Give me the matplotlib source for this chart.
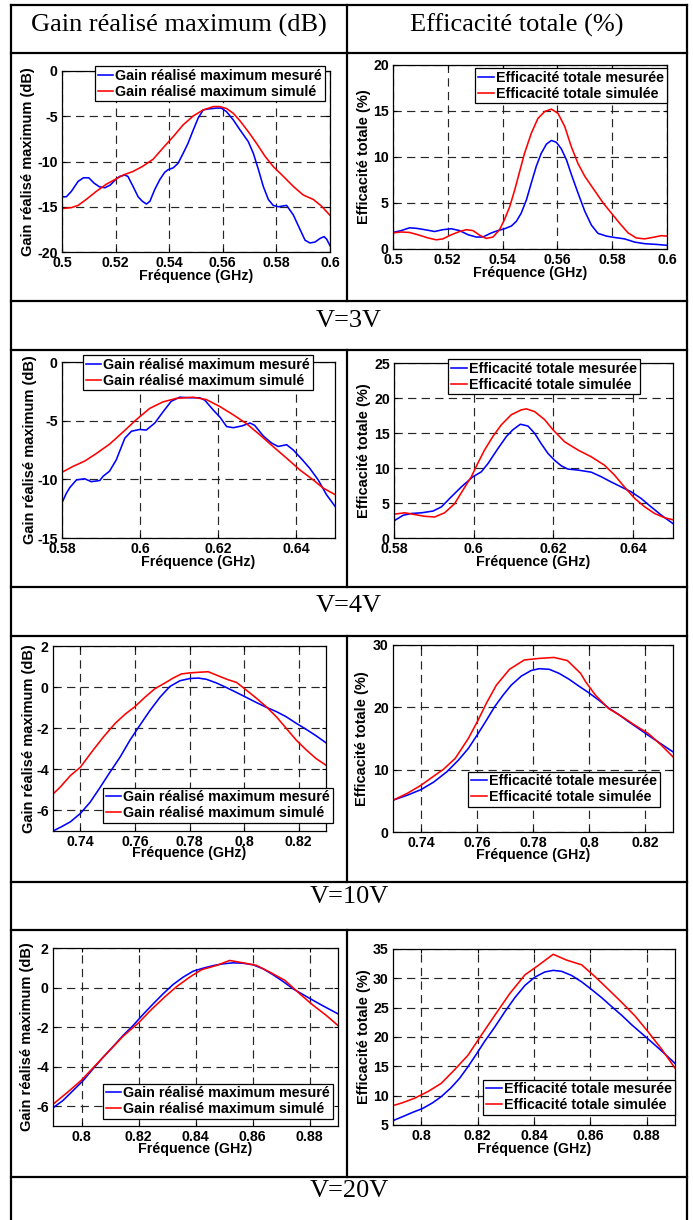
import matplotlib
matplotlib.use('Agg')
import matplotlib.pyplot as plt
from matplotlib.lines import Line2D
from matplotlib.ticker import FuncFormatter

# ---- data ----
headers = ['Gain réalisé maximum (dB)', 'Efficacité totale (%)']
voltages = ['V=3V', 'V=4V', 'V=10V', 'V=20V']
gain_label = 'Gain réalisé maximum (dB)'
eff_label = 'Efficacité totale (%)'
gain_leg = ['Gain réalisé maximum mesuré', 'Gain réalisé maximum simulé']
eff_leg = ['Efficacité totale mesurée', 'Efficacité totale simulée']

# V=3V gain
f_g3_mes = [0.5000, 0.5016, 0.5035, 0.5060, 0.5080, 0.5100, 0.5120, 0.5140, 0.5160, 0.5180,
            0.5200, 0.5215, 0.5234, 0.5246, 0.5265, 0.5284, 0.5300, 0.5315, 0.5328, 0.5346,
            0.5365, 0.5383, 0.5396, 0.5415, 0.5433, 0.5452, 0.5470, 0.5490, 0.5508, 0.5527,
            0.5545, 0.5577, 0.5595, 0.5614, 0.5639, 0.5664, 0.5695, 0.5714, 0.5733, 0.5751,
            0.5770, 0.5788, 0.5807, 0.5838, 0.5863, 0.5888, 0.5907, 0.5925, 0.5944, 0.5963,
            0.5978, 0.5988, 0.6000]
g3_mes = [-13.9, -13.9, -13.3, -12.2, -11.8, -11.8, -12.4, -12.8, -12.9, -12.6,
          -12.0, -11.65, -11.5, -11.65, -12.75, -13.9, -14.4, -14.7, -14.4, -13.1,
          -12.0, -11.2, -10.9, -10.7, -10.2, -9.1, -8.0, -6.5, -5.2, -4.3,
          -4.2, -4.1, -4.1, -4.5, -5.4, -6.5, -7.8, -9.1, -10.9, -12.75,
          -14.2, -14.85, -15.0, -14.85, -15.9, -17.5, -18.7, -19.0, -18.9, -18.5,
          -18.3, -18.6, -19.3]
f_g3_sim = [0.5000, 0.5035, 0.5060, 0.5090, 0.5128, 0.5166, 0.5200, 0.5228, 0.5265, 0.5300,
            0.5340, 0.5377, 0.5415, 0.5452, 0.5490, 0.5527, 0.5565, 0.5589, 0.5614, 0.5639,
            0.5664, 0.5695, 0.5726, 0.5757, 0.5788, 0.5826, 0.5863, 0.5900, 0.5938, 0.5969,
            0.6000]
g3_sim = [-15.2, -15.1, -14.85, -14.2, -13.3, -12.5, -11.95, -11.5, -11.1, -10.55,
          -9.75, -8.5, -7.25, -5.95, -4.96, -4.3, -3.93, -3.93, -4.15, -4.67,
          -5.5, -6.7, -8.0, -9.4, -10.55, -11.65, -12.75, -13.7, -14.2, -14.95,
          -15.95]

# V=3V efficiency
f_e3_mes = [0.5000, 0.5030, 0.5060, 0.5085, 0.5116, 0.5152, 0.5182, 0.5213, 0.5243, 0.5274,
            0.5304, 0.5328, 0.5359, 0.5383, 0.5407, 0.5432, 0.5450, 0.5468, 0.5487, 0.5505,
            0.5523, 0.5541, 0.5560, 0.5578, 0.5596, 0.5614, 0.5633, 0.5651, 0.5675, 0.5700,
            0.5724, 0.5748, 0.5779, 0.5809, 0.5845, 0.5882, 0.5918, 0.5961, 0.6000]
e3_mes = [1.8, 2.0, 2.3, 2.25, 2.1, 1.9, 2.1, 2.2, 2.0, 1.55,
          1.3, 1.3, 1.75, 2.0, 2.2, 2.5, 3.0, 3.9, 5.35, 7.2,
          9.0, 10.4, 11.4, 11.8, 11.6, 10.9, 9.7, 8.1, 6.1, 4.1,
          2.6, 1.7, 1.4, 1.25, 1.1, 0.75, 0.58, 0.5, 0.4]
f_e3_sim = [0.5000, 0.5030, 0.5060, 0.5091, 0.5128, 0.5158, 0.5182, 0.5213, 0.5243, 0.5268,
            0.5292, 0.5316, 0.5340, 0.5365, 0.5389, 0.5407, 0.5426, 0.5444, 0.5462, 0.5480,
            0.5505, 0.5529, 0.5554, 0.5578, 0.5602, 0.5627, 0.5651, 0.5675, 0.5700, 0.5730,
            0.5767, 0.5797, 0.5827, 0.5858, 0.5888, 0.5918, 0.5955, 0.5979, 0.6000]
e3_sim = [1.75, 1.85, 1.8, 1.55, 1.2, 1.0, 1.1, 1.55, 1.9, 2.1,
          2.0, 1.5, 1.15, 1.3, 2.1, 3.2, 4.6, 6.4, 8.4, 10.4,
          12.6, 14.2, 14.95, 15.2, 14.75, 13.3, 11.1, 9.3, 7.9, 6.6,
          5.0, 3.9, 2.8, 1.75, 1.2, 1.1, 1.3, 1.45, 1.4]

# V=4V gain
f_g4_mes = [0.5800, 0.5811, 0.5820, 0.5837, 0.5858, 0.5875, 0.5897, 0.5905, 0.5922, 0.5939,
            0.5961, 0.5978, 0.5999, 0.6016, 0.6038, 0.6059, 0.6080, 0.6102, 0.6128, 0.6153,
            0.6166, 0.6188, 0.6205, 0.6222, 0.6239, 0.6261, 0.6282, 0.6294, 0.6316, 0.6337,
            0.6354, 0.6376, 0.6393, 0.6414, 0.6435, 0.6457, 0.6478, 0.6500]
g4_mes = [-12.0, -11.2, -10.7, -10.05, -9.95, -10.2, -10.1, -9.75, -9.3, -8.35,
          -6.5, -5.9, -5.75, -5.8, -5.2, -4.25, -3.35, -3.0, -3.05, -3.05,
          -3.25, -4.1, -4.7, -5.5, -5.6, -5.45, -5.2, -5.4, -6.3, -6.9,
          -7.2, -7.05, -7.5, -8.25, -9.05, -10.05, -11.3, -12.3]
f_g4_sim = [0.5800, 0.5828, 0.5858, 0.5888, 0.5922, 0.5957, 0.5991, 0.6025, 0.6059, 0.6093,
            0.6136, 0.6170, 0.6205, 0.6239, 0.6273, 0.6307, 0.6341, 0.6376, 0.6410, 0.6444,
            0.6470, 0.6500]
g4_sim = [-9.4, -8.9, -8.45, -7.8, -7.0, -5.95, -4.9, -3.95, -3.4, -3.1,
          -3.0, -3.2, -3.8, -4.5, -5.25, -6.2, -7.2, -8.2, -9.2, -10.05,
          -10.75, -11.3]

# V=4V efficiency
f_e4_mes = [0.5800, 0.5823, 0.5843, 0.5869, 0.5898, 0.5919, 0.5944, 0.5969, 0.5998, 0.6019,
            0.6036, 0.6061, 0.6082, 0.6098, 0.6117, 0.6136, 0.6153, 0.6169, 0.6186, 0.6203,
            0.6220, 0.6236, 0.6262, 0.6295, 0.6320, 0.6345, 0.6370, 0.6395, 0.6420, 0.6445,
            0.6471, 0.6500]
e4_mes = [2.45, 3.25, 3.5, 3.6, 3.85, 4.45, 5.9, 7.3, 8.75, 9.45,
          10.65, 12.8, 14.5, 15.45, 16.25, 16.0, 14.95, 13.5, 12.1, 11.1,
          10.3, 9.85, 9.7, 9.4, 8.75, 8.0, 7.3, 6.6, 5.65, 4.45,
          3.25, 2.05]
f_e4_sim = [0.5800, 0.5827, 0.5852, 0.5877, 0.5902, 0.5927, 0.5952, 0.5973, 0.5994, 0.6010,
            0.6027, 0.6048, 0.6069, 0.6094, 0.6119, 0.6132, 0.6153, 0.6178, 0.6199, 0.6228,
            0.6262, 0.6295, 0.6328, 0.6353, 0.6378, 0.6404, 0.6429, 0.6454, 0.6479, 0.6500]
e4_sim = [3.4, 3.6, 3.35, 3.1, 3.0, 3.6, 4.9, 6.85, 8.75, 10.65,
          12.55, 14.5, 16.15, 17.6, 18.3, 18.45, 18.05, 16.9, 15.45, 13.75,
          12.55, 11.6, 10.4, 9.0, 7.3, 5.65, 4.45, 3.5, 2.9, 2.6]

# V=10V gain
f_g10_mes = [0.7300, 0.7330, 0.7364, 0.7400, 0.7436, 0.7473, 0.7509, 0.7546, 0.7582, 0.7619,
             0.7655, 0.7692, 0.7728, 0.7765, 0.7802, 0.7832, 0.7862, 0.7899, 0.7935, 0.7972,
             0.8008, 0.8045, 0.8081, 0.8118, 0.8154, 0.8191, 0.8228, 0.8264, 0.8300]
g10_mes = [-7.0, -6.8, -6.55, -6.15, -5.6, -4.87, -4.13, -3.4, -2.58, -1.84,
           -1.14, -0.49, 0.03, 0.31, 0.42, 0.44, 0.38, 0.2, -0.02, -0.26,
           -0.5, -0.75, -0.98, -1.19, -1.44, -1.76, -2.06, -2.37, -2.71]
f_g10_sim = [0.7300, 0.7326, 0.7364, 0.7400, 0.7442, 0.7485, 0.7528, 0.7564, 0.7600, 0.7637,
             0.7673, 0.7710, 0.7740, 0.7770, 0.7800, 0.7832, 0.7868, 0.7905, 0.7941, 0.7972,
             0.8002, 0.8045, 0.8081, 0.8118, 0.8154, 0.8191, 0.8228, 0.8264, 0.8300]
g10_sim = [-5.2, -4.87, -4.3, -3.9, -3.15, -2.42, -1.76, -1.32, -0.95, -0.49,
           -0.08, 0.2, 0.44, 0.64, 0.69, 0.72, 0.75, 0.55, 0.36, 0.23,
           -0.08, -0.54, -0.95, -1.44, -2.0, -2.58, -3.06, -3.48, -3.8]

# V=10V efficiency
f_e10_mes = [0.7300, 0.7351, 0.7400, 0.7445, 0.7492, 0.7533, 0.7569, 0.7604, 0.7634, 0.7663,
             0.7693, 0.7722, 0.7758, 0.7793, 0.7822, 0.7858, 0.7893, 0.7929, 0.7964, 0.7999,
             0.8035, 0.8070, 0.8106, 0.8141, 0.8177, 0.8212, 0.8247, 0.8300]
e10_mes = [5.1, 5.9, 6.8, 8.0, 9.65, 11.5, 13.4, 15.8, 17.95, 20.1,
           21.95, 23.55, 25.0, 25.9, 26.2, 26.1, 25.45, 24.5, 23.4, 22.35,
           21.15, 19.9, 18.85, 17.7, 16.6, 15.5, 14.45, 12.85]
f_e10_sim = [0.7300, 0.7351, 0.7400, 0.7445, 0.7480, 0.7522, 0.7569, 0.7604, 0.7634, 0.7669,
             0.7716, 0.7769, 0.7822, 0.7875, 0.7923, 0.7970, 0.7988, 0.8006, 0.8023, 0.8070,
             0.8118, 0.8165, 0.8212, 0.8259, 0.8300]
e10_sim = [5.1, 6.2, 7.5, 8.95, 10.05, 11.8, 15.0, 17.95, 20.7, 23.55,
           26.1, 27.6, 27.85, 28.0, 27.5, 25.45, 24.1, 23.0, 21.95, 19.8,
           18.5, 17.1, 15.8, 13.9, 12.05]

# V=20V gain
f_g20_mes = [0.7900, 0.7935, 0.7971, 0.8006, 0.8041, 0.8076, 0.8111, 0.8146, 0.8181, 0.8216,
             0.8251, 0.8286, 0.8321, 0.8356, 0.8392, 0.8427, 0.8462, 0.8497, 0.8532, 0.8567,
             0.8602, 0.8637, 0.8673, 0.8708, 0.8743, 0.8778, 0.8813, 0.8848, 0.8900]
g20_mes = [-6.08, -5.71, -5.2, -4.7, -4.1, -3.52, -2.98, -2.42, -1.92, -1.36,
           -0.83, -0.32, 0.15, 0.52, 0.83, 0.98, 1.11, 1.2, 1.25, 1.23,
           1.15, 0.95, 0.64, 0.3, -0.07, -0.36, -0.65, -0.93, -1.33]
f_g20_sim = [0.7900, 0.7953, 0.8000, 0.8053, 0.8100, 0.8146, 0.8199, 0.8246, 0.8293, 0.8334,
             0.8380, 0.8421, 0.8474, 0.8520, 0.8567, 0.8614, 0.8661, 0.8714, 0.8766, 0.8813,
             0.8859, 0.8900]
g20_sim = [-5.9, -5.27, -4.68, -3.87, -3.16, -2.46, -1.8, -1.1, -0.46, 0.05,
           0.53, 0.9, 1.12, 1.37, 1.25, 1.12, 0.78, 0.36, -0.32, -0.9,
           -1.41, -1.92]

# V=20V efficiency
f_e20_mes = [0.7900, 0.7934, 0.7970, 0.8006, 0.8041, 0.8071, 0.8106, 0.8136, 0.8166, 0.8196,
             0.8225, 0.8261, 0.8296, 0.8332, 0.8368, 0.8403, 0.8438, 0.8468, 0.8498, 0.8533,
             0.8569, 0.8604, 0.8640, 0.8675, 0.8711, 0.8746, 0.8782, 0.8818, 0.8853, 0.8900]
e20_mes = [5.74, 6.42, 7.16, 7.84, 8.8, 9.83, 11.36, 12.95, 14.94, 17.1,
           19.26, 21.7, 24.26, 26.7, 28.8, 30.2, 31.08, 31.36, 31.19, 30.5,
           29.4, 28.1, 26.7, 25.2, 23.7, 22.1, 20.6, 19.1, 17.6, 15.5]
f_e20_sim = [0.7900, 0.7934, 0.7976, 0.8024, 0.8071, 0.8118, 0.8166, 0.8213, 0.8261, 0.8314,
             0.8368, 0.8415, 0.8468, 0.8516, 0.8569, 0.8616, 0.8664, 0.8711, 0.8758, 0.8806,
             0.8853, 0.8900]
e20_sim = [8.3, 8.8, 9.55, 10.7, 12.1, 14.4, 16.9, 20.3, 23.7, 27.4,
           30.6, 32.2, 34.1, 33.1, 32.3, 30.3, 28.1, 25.9, 23.6, 20.8,
           17.9, 14.7]

# axis ranges and ticks
xt_3 = [0.5, 0.52, 0.54, 0.56, 0.58, 0.6]
xt_4 = [0.58, 0.6, 0.62, 0.64]
xt_10 = [0.74, 0.76, 0.78, 0.8, 0.82]
xt_20 = [0.8, 0.82, 0.84, 0.86, 0.88]
yt_g3 = [-20, -15, -10, -5, 0]
yt_e3 = [0, 5, 10, 15, 20]
yt_g4 = [-15, -10, -5, 0]
yt_e4 = [0, 5, 10, 15, 20, 25]
yt_g10 = [-6, -4, -2, 0, 2]
yt_e10 = [0, 10, 20, 30]
yt_g20 = [-6, -4, -2, 0, 2]
yt_e20 = [5, 10, 15, 20, 25, 30, 35]

W, H = 693, 1220
plt.rcParams['font.family'] = ['Liberation Sans', 'DejaVu Sans']
plt.rcParams['font.weight'] = 'bold'
fig = plt.figure(figsize=(W / 100, H / 100), dpi=100)
fmt = FuncFormatter(lambda v, p: '%g' % v)


def panel(box, xlim, ylim, xt, yt, fm, vm, fs, vs, ylab, legs, leg_loc, leg_xy, ylab_x, xlab_y):
    l, t, r, b = box
    ax = fig.add_axes([l / W, 1 - b / H, (r - l) / W, (b - t) / H])
    ax.plot(fm, vm, color='#0000ff', lw=1.15, label=legs[0])
    ax.plot(fs, vs, color='#ff0000', lw=1.15, label=legs[1])
    ax.set_xlim(xlim)
    ax.set_ylim(ylim)
    ax.set_xticks(xt)
    ax.set_yticks(yt)
    ax.xaxis.set_major_formatter(fmt)
    ax.yaxis.set_major_formatter(fmt)
    ax.set_axisbelow(True)
    ax.grid(True, color='#262626', lw=0.85, linestyle=(0, (7, 4.5)))
    ax.tick_params(direction='in', length=3, width=0.8, top=True, right=True,
                   labelsize=10.2, pad=3)
    for s in ax.spines.values():
        s.set_linewidth(0.9)
    ax.set_ylabel(ylab, fontsize=10.5, fontweight='bold')
    ax.yaxis.label.set_va('center')
    ax.yaxis.set_label_coords((ylab_x - l) / (r - l), 0.5)
    ax.set_xlabel('Fréquence (GHz)', fontsize=10.3, fontweight='bold')
    ax.xaxis.label.set_va('center')
    ax.xaxis.set_label_coords(0.5, -(xlab_y - b) / (b - t))
    lg = ax.legend(loc=leg_loc, bbox_to_anchor=(leg_xy[0] / W, 1 - leg_xy[1] / H),
                   bbox_transform=fig.transFigure, borderaxespad=0, fancybox=False,
                   framealpha=1, edgecolor='black', fontsize=10.3, handlelength=1.1,
                   handletextpad=0.15, borderpad=0.2, labelspacing=0.12)
    lg.get_frame().set_linewidth(0.9)
    return ax


panel((62, 71, 330, 252), (0.5, 0.6), (-20, 0), xt_3, yt_g3, f_g3_mes, g3_mes, f_g3_sim, g3_sim,
      gain_label, gain_leg, 'upper right', (325, 66), 28, 276)
panel((393, 65, 667, 249), (0.5, 0.6), (0, 20), xt_3, yt_e3, f_e3_mes, e3_mes, f_e3_sim, e3_sim,
      eff_label, eff_leg, 'upper right', (667, 68), 364, 273)
panel((62, 362, 335, 538), (0.58, 0.65), (-15, 0), xt_4, yt_g4, f_g4_mes, g4_mes, f_g4_sim, g4_sim,
      gain_label, gain_leg, 'upper right', (313, 355), 30, 562)
panel((394, 363, 673, 538), (0.58, 0.65), (0, 25), xt_4, yt_e4, f_e4_mes, e4_mes, f_e4_sim, e4_sim,
      eff_label, eff_leg, 'upper right', (640, 359), 364, 562)
panel((53, 646, 326, 831), (0.73, 0.83), (-7, 2), xt_10, yt_g10, f_g10_mes, g10_mes, f_g10_sim, g10_sim,
      gain_label, gain_leg, 'lower right', (333, 823), 29, 853)
panel((393, 645, 673, 832), (0.73, 0.83), (0, 30), xt_10, yt_e10, f_e10_mes, e10_mes, f_e10_sim, e10_sim,
      eff_label, eff_leg, 'lower right', (660, 807), 362, 855)
panel((53, 948, 338, 1126), (0.79, 0.89), (-7, 2), xt_20, yt_g20, f_g20_mes, g20_mes, f_g20_sim, g20_sim,
      gain_label, gain_leg, 'lower right', (333, 1119), 27.5, 1149)
panel((393, 949, 675, 1125), (0.79, 0.89), (5, 35), xt_20, yt_e20, f_e20_mes, e20_mes, f_e20_sim, e20_sim,
      eff_label, eff_leg, 'lower right', (675, 1115), 364, 1149)


# table frame
def hline(y, x0=11, x1=687):
    fig.add_artist(Line2D([x0 / W, x1 / W], [1 - y / H, 1 - y / H], color='black', lw=1.6,
                          transform=fig.transFigure, solid_capstyle='projecting'))


def vline(x, y0, y1):
    fig.add_artist(Line2D([x / W, x / W], [1 - y0 / H, 1 - y1 / H], color='black', lw=1.6,
                          transform=fig.transFigure, solid_capstyle='projecting'))


for y in [5, 53, 301, 350, 587, 636, 882, 930, 1177]:
    hline(y)
vline(11, 5, 1220)
vline(687, 5, 1220)
for y0, y1 in [(5, 301), (350, 587), (636, 882), (930, 1177)]:
    vline(346.5, y0, y1)

fig.text(178.5 / W, 1 - 32 / H, headers[0], family='Liberation Serif', fontweight='normal',
         fontsize=19, ha='center', va='baseline')
fig.text(516.5 / W, 1 - 32 / H, headers[1], family='Liberation Serif', fontweight='normal',
         fontsize=19, ha='center', va='baseline')
for lab, yb in zip(voltages, [327, 612, 903, 1197]):
    fig.text(349 / W, 1 - yb / H, lab, family='Liberation Serif', fontweight='normal',
             fontsize=19, ha='center', va='baseline')

fig.savefig('out.png', dpi=100, facecolor='white')
